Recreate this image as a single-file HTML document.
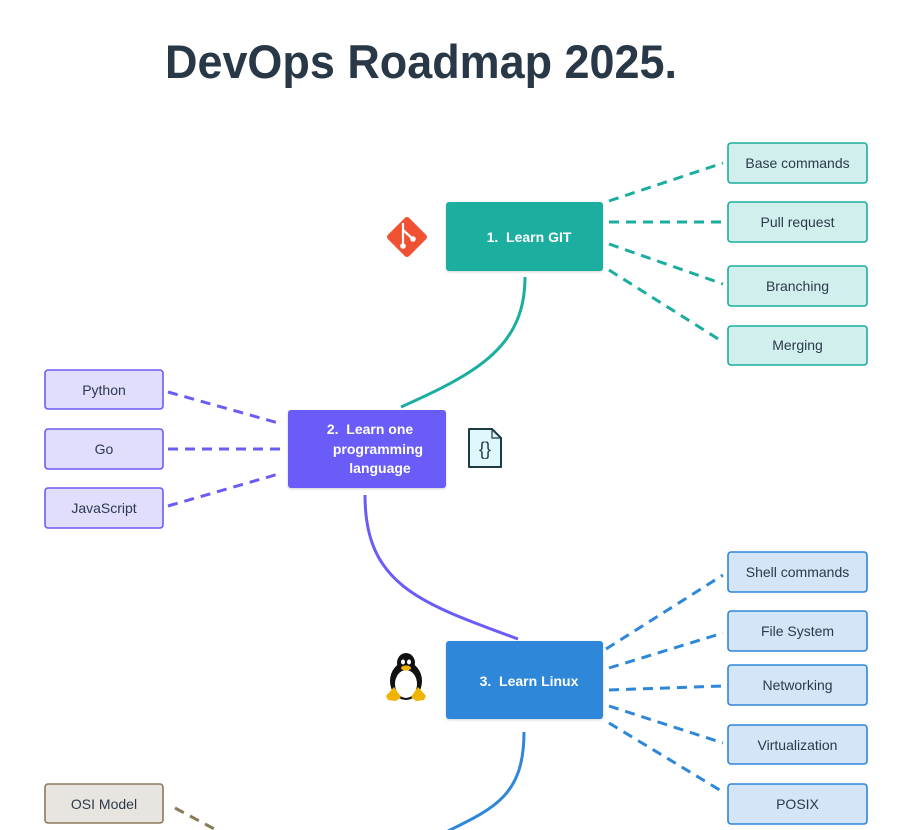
<!DOCTYPE html>
<html><head><meta charset="utf-8"><style>
html,body{margin:0;padding:0;background:#fff;}
svg{display:block;}
text{font-family:"Liberation Sans",sans-serif;}
</style></head><body>
<svg width="903" height="830" viewBox="0 0 903 830" xmlns="http://www.w3.org/2000/svg">
<defs>
<filter id="sh" x="-10%" y="-10%" width="120%" height="130%"><feDropShadow dx="0" dy="1" stdDeviation="1.2" flood-color="#000" flood-opacity="0.18"/></filter>
</defs>
<rect width="903" height="830" fill="#fff"/>
<text x="165" y="78" font-size="47" font-weight="bold" fill="#293847" textLength="512" lengthAdjust="spacingAndGlyphs">DevOps Roadmap 2025.</text>

<!-- curves -->
<path d="M525,277 C525,345 480,372 401,407" fill="none" stroke="#1aae9f" stroke-width="3"/>
<path d="M365,495 C365,585 420,603 518,639" fill="none" stroke="#6b5cf6" stroke-width="3"/>
<path d="M524,732 C524,795 495,808 446,832" fill="none" stroke="#2e87d8" stroke-width="3"/>

<!-- git dashed -->
<g stroke="#1aae9f" stroke-width="3" stroke-dasharray="10 7" fill="none">
<line x1="609" y1="201" x2="723" y2="163"/>
<line x1="609" y1="222" x2="723" y2="222"/>
<line x1="609" y1="244" x2="723" y2="284"/>
<line x1="609" y1="270" x2="723" y2="342"/>
</g>
<!-- lang dashed -->
<g stroke="#6b5cf6" stroke-width="3" stroke-dasharray="10 7" fill="none">
<line x1="168" y1="392" x2="282" y2="424"/>
<line x1="168" y1="449" x2="282" y2="449"/>
<line x1="168" y1="506" x2="282" y2="473"/>
</g>
<!-- linux dashed -->
<g stroke="#2e87d8" stroke-width="3" stroke-dasharray="10 7" fill="none">
<line x1="606" y1="649" x2="723" y2="575"/>
<line x1="609" y1="668" x2="723" y2="633"/>
<line x1="609" y1="690" x2="723" y2="686"/>
<line x1="609" y1="706" x2="723" y2="743"/>
<line x1="609" y1="723" x2="723" y2="792"/>
</g>
<line x1="175" y1="808" x2="220" y2="832" stroke="#8a7a5a" stroke-width="3" stroke-dasharray="10 7"/>

<!-- main boxes -->
<rect x="446" y="202" width="157" height="69" rx="3" fill="#1aae9f" filter="url(#sh)"/>
<text x="529" y="242" font-size="14" font-weight="bold" fill="#fff" text-anchor="middle">1.&#160; Learn GIT</text>

<rect x="288" y="410" width="158" height="78" rx="3" fill="#6b5cf6" filter="url(#sh)"/>
<text x="370" y="434" font-size="14" font-weight="bold" fill="#fff" text-anchor="middle">2.&#160; Learn one</text>
<text x="378" y="454" font-size="14" font-weight="bold" fill="#fff" text-anchor="middle">programming</text>
<text x="380" y="473" font-size="14" font-weight="bold" fill="#fff" text-anchor="middle">language</text>

<rect x="446" y="641" width="157" height="78" rx="3" fill="#2e87d8" filter="url(#sh)"/>
<text x="529" y="686" font-size="14" font-weight="bold" fill="#fff" text-anchor="middle">3.&#160; Learn Linux</text>

<!-- git sub boxes -->
<g fill="#d1efec" stroke="#1aae9f" stroke-width="1.6">
<rect x="728" y="143" width="139" height="40" rx="3"/>
<rect x="728" y="202" width="139" height="40" rx="3"/>
<rect x="728" y="266" width="139" height="40" rx="3"/>
<rect x="728" y="326" width="139" height="39" rx="3"/>
</g>
<g font-size="14" fill="#2b3a4a" text-anchor="middle">
<text x="797.5" y="168">Base commands</text>
<text x="797.5" y="227">Pull request</text>
<text x="797.5" y="291">Branching</text>
<text x="797.5" y="350">Merging</text>
</g>

<!-- lang sub boxes -->
<g fill="#e0ddfd" stroke="#6b5cf6" stroke-width="1.6">
<rect x="45" y="370" width="118" height="39" rx="3"/>
<rect x="45" y="429" width="118" height="40" rx="3"/>
<rect x="45" y="488" width="118" height="40" rx="3"/>
</g>
<g font-size="14" fill="#2b3a4a" text-anchor="middle">
<text x="104" y="395">Python</text>
<text x="104" y="454">Go</text>
<text x="104" y="513">JavaScript</text>
</g>

<!-- linux sub boxes -->
<g fill="#d3e5f6" stroke="#2e87d8" stroke-width="1.6">
<rect x="728" y="552" width="139" height="40" rx="3"/>
<rect x="728" y="611" width="139" height="40" rx="3"/>
<rect x="728" y="665" width="139" height="40" rx="3"/>
<rect x="728" y="725" width="139" height="39" rx="3"/>
<rect x="728" y="784" width="139" height="40" rx="3"/>
</g>
<g font-size="14" fill="#2b3a4a" text-anchor="middle">
<text x="797.5" y="577">Shell commands</text>
<text x="797.5" y="636">File System</text>
<text x="797.5" y="690">Networking</text>
<text x="797.5" y="750">Virtualization</text>
<text x="797.5" y="809">POSIX</text>
</g>

<!-- OSI -->
<rect x="45" y="784" width="118" height="39" rx="3" fill="#e8e4df" stroke="#8a7a5a" stroke-width="1.6"/>
<text x="104" y="809" font-size="14" fill="#2b3a4a" text-anchor="middle">OSI Model</text>

<!-- git icon -->
<g transform="translate(407,237) rotate(45)">
<rect x="-15" y="-15" width="30" height="30" rx="3" fill="#f05133"/>
</g>
<g stroke="#fff" stroke-width="2.2" fill="none">
<line x1="403" y1="223" x2="403" y2="245"/>
<line x1="403" y1="230" x2="413" y2="239"/>
</g>
<circle cx="403" cy="246" r="2.8" fill="#fff"/>
<circle cx="413" cy="239" r="2.8" fill="#fff"/>

<!-- code file icon -->
<path d="M469,429 L492,429 L501,438 L501,467 L469,467 Z" fill="#e0f7fb" stroke="#1e3a44" stroke-width="2" stroke-linejoin="round"/>
<path d="M492,429 L492,438 L501,438" fill="none" stroke="#1e3a44" stroke-width="1.2"/>
<text x="485" y="455" font-size="18" fill="#1e3a44" text-anchor="middle" font-family="Liberation Mono, monospace">{}</text>

<!-- penguin -->
<g>
<ellipse cx="406" cy="681" rx="16" ry="19" fill="#111"/>
<ellipse cx="406" cy="663" rx="9" ry="10" fill="#111"/>
<ellipse cx="406" cy="684" rx="11" ry="14" fill="#fff"/>
<ellipse cx="403" cy="662" rx="2" ry="2.5" fill="#fff"/>
<ellipse cx="409" cy="662" rx="2" ry="2.5" fill="#fff"/>
<ellipse cx="406" cy="668" rx="5" ry="2.5" fill="#f0b400"/>
<path d="M386,696 L394,687 L401,697 L396,701 L388,700 Z" fill="#f0b400"/>
<path d="M426,696 L418,687 L411,697 L416,701 L424,700 Z" fill="#f0b400"/>
</g>
</svg>
</body></html>
